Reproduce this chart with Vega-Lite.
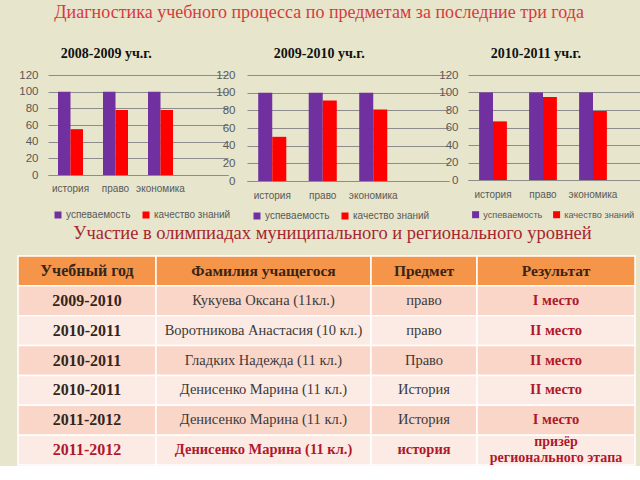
{
  "$schema": "https://vega.github.io/schema/vega-lite/v6.json",
  "background": "#e7e5cb",
  "padding": {"left": 17, "top": 4, "right": 0, "bottom": 0},
  "config": {
    "view": {"stroke": null},
    "font": "Liberation Sans",
    "axis": {"labelFont": "Liberation Sans", "labelColor": "#595959", "domainColor": "#8c8c8c", "gridColor": "#8c8c8c", "gridOpacity": 1, "ticks": false},
    "legend": {"labelFont": "Liberation Sans", "labelColor": "#595959", "labelFontSize": 10, "symbolType": "square", "symbolSize": 49, "symbolStrokeWidth": 0, "columnPadding": 10, "labelOffset": 3, "title": null, "orient": "bottom", "direction": "horizontal"}
  },
  "title": {"text": "Диагностика учебного процесса по предметам  за последние три года", "font": "Liberation Serif", "fontSize": 18, "fontWeight": "normal", "color": "#d63a40", "anchor": "middle", "offset": 25, "dx": -10},
  "datasets": {
    "grades": [
      {"year": "2008-2009", "subject": "история", "metric": "успеваемость", "value": 100},
      {"year": "2008-2009", "subject": "история", "metric": "качество знаний", "value": 55},
      {"year": "2008-2009", "subject": "право", "metric": "успеваемость", "value": 100},
      {"year": "2008-2009", "subject": "право", "metric": "качество знаний", "value": 78},
      {"year": "2008-2009", "subject": "экономика", "metric": "успеваемость", "value": 100},
      {"year": "2008-2009", "subject": "экономика", "metric": "качество знаний", "value": 78},
      {"year": "2009-2010", "subject": "история", "metric": "успеваемость", "value": 100},
      {"year": "2009-2010", "subject": "история", "metric": "качество знаний", "value": 50},
      {"year": "2009-2010", "subject": "право", "metric": "успеваемость", "value": 100},
      {"year": "2009-2010", "subject": "право", "metric": "качество знаний", "value": 91},
      {"year": "2009-2010", "subject": "экономика", "metric": "успеваемость", "value": 100},
      {"year": "2009-2010", "subject": "экономика", "metric": "качество знаний", "value": 81},
      {"year": "2010-2011", "subject": "история", "metric": "успеваемость", "value": 100},
      {"year": "2010-2011", "subject": "история", "metric": "качество знаний", "value": 67},
      {"year": "2010-2011", "subject": "право", "metric": "успеваемость", "value": 100},
      {"year": "2010-2011", "subject": "право", "metric": "качество знаний", "value": 95},
      {"year": "2010-2011", "subject": "экономика", "metric": "успеваемость", "value": 100},
      {"year": "2010-2011", "subject": "экономика", "metric": "качество знаний", "value": 79}
    ],
    "table": [
      {"r": 0, "year": "Учебный год", "name": "Фамилия учащегося", "subject": "Предмет", "result": "Результат"},
      {"r": 1, "year": "2009-2010", "name": "Кукуева Оксана (11кл.)", "subject": "право", "result": "I место"},
      {"r": 2, "year": "2010-2011", "name": "Воротникова Анастасия (10 кл.)", "subject": "право", "result": "II место"},
      {"r": 3, "year": "2010-2011", "name": "Гладких Надежда (11 кл.)", "subject": "Право", "result": "II место"},
      {"r": 4, "year": "2010-2011", "name": "Денисенко Марина (11 кл.)", "subject": "История", "result": "II место"},
      {"r": 5, "year": "2011-2012", "name": "Денисенко Марина (11 кл.)", "subject": "История", "result": "I место"},
      {"r": 6, "year": "2011-2012", "name": "Денисенко Марина (11 кл.)", "subject": "история", "result": "призёр\nрегионального этапа"}
    ]
  },
  "resolve": {"scale": {"color": "independent"}, "legend": {"color": "independent"}},
  "spacing": -3,
  "vconcat": [
    {
      "bounds": "flush",
      "spacing": 19,
      "resolve": {"scale": {"color": "independent", "x": "independent", "y": "independent", "xOffset": "independent"}, "legend": {"color": "independent"}},
      "hconcat": [
        {"width": 11, "height": 100, "data": {"values": []}, "mark": {"type": "rect", "opacity": 0}},
        {
          "width": 180, "height": 100,
          "title": {"text": "2008-2009 уч.г.", "font": "Liberation Serif", "fontSize": 14, "fontWeight": "bold", "color": "#111111", "anchor": "start", "dx": 42, "offset": 8},
          "data": {"name": "grades"},
          "transform": [{"filter": "datum.year == '2008-2009'"}],
          "mark": {"type": "bar"},
          "encoding": {
            "x": {"field": "subject", "type": "nominal", "sort": ["история", "право", "экономика"], "scale": {"paddingInner": 0, "paddingOuter": 0.5, "align": 0}, "axis": {"title": null, "labelAngle": 0, "labelFontSize": 10, "labelPadding": 8}},
            "xOffset": {"field": "metric", "type": "nominal", "sort": ["успеваемость", "качество знаний"], "scale": {"paddingOuter": 0.8, "paddingInner": 0}},
            "y": {"field": "value", "type": "quantitative", "scale": {"domain": [0, 120]}, "axis": {"title": null, "values": [0, 20, 40, 60, 80, 100, 120], "domain": false, "labelFontSize": 11.5, "labelPadding": 10}},
            "color": {"field": "metric", "type": "nominal", "sort": ["успеваемость", "качество знаний"], "scale": {"domain": ["успеваемость", "качество знаний"], "range": ["#7030a0", "#ff0000"]}, "legend": {"offset": 12, "padding": 5}}
          }
        },
        {
          "width": 202, "height": 106,
          "title": {"text": "2009-2010 уч.г.", "font": "Liberation Serif", "fontSize": 14, "fontWeight": "bold", "color": "#111111", "anchor": "start", "dx": 58, "offset": 8},
          "data": {"name": "grades"},
          "transform": [{"filter": "datum.year == '2009-2010'"}],
          "mark": {"type": "bar"},
          "encoding": {
            "x": {"field": "subject", "type": "nominal", "sort": ["история", "право", "экономика"], "scale": {"paddingInner": 0, "paddingOuter": 0.5, "align": 0}, "axis": {"title": null, "labelAngle": 0, "labelFontSize": 10, "labelPadding": 9}},
            "xOffset": {"field": "metric", "type": "nominal", "sort": ["успеваемость", "качество знаний"], "scale": {"paddingOuter": 0.8, "paddingInner": 0}},
            "y": {"field": "value", "type": "quantitative", "scale": {"domain": [0, 120]}, "axis": {"title": null, "values": [0, 20, 40, 60, 80, 100, 120], "domain": false, "labelFontSize": 11.5, "labelPadding": 12}},
            "color": {"field": "metric", "type": "nominal", "sort": ["успеваемость", "качество знаний"], "scale": {"domain": ["успеваемость", "качество знаний"], "range": ["#7030a0", "#ff0000"]}, "legend": {"offset": 6, "padding": 5}}
          }
        },
        {
          "width": 173, "height": 105,
          "title": {"text": "2010-2011 уч.г.", "font": "Liberation Serif", "fontSize": 14, "fontWeight": "bold", "color": "#111111", "anchor": "start", "dx": 52, "offset": 8},
          "data": {"name": "grades"},
          "transform": [{"filter": "datum.year == '2010-2011'"}],
          "mark": {"type": "bar"},
          "encoding": {
            "x": {"field": "subject", "type": "nominal", "sort": ["история", "право", "экономика"], "scale": {"paddingInner": 0, "paddingOuter": 0.23, "align": 0}, "axis": {"title": null, "labelAngle": 0, "labelFontSize": 10, "labelPadding": 9}},
            "xOffset": {"field": "metric", "type": "nominal", "sort": ["успеваемость", "качество знаний"], "scale": {"paddingOuter": 0.8, "paddingInner": 0}},
            "y": {"field": "value", "type": "quantitative", "scale": {"domain": [0, 120]}, "axis": {"title": null, "values": [0, 20, 40, 60, 80, 100, 120], "domain": false, "labelFontSize": 11.5, "labelPadding": 10}},
            "color": {"field": "metric", "type": "nominal", "sort": ["успеваемость", "качество знаний"], "scale": {"domain": ["успеваемость", "качество знаний"], "range": ["#7030a0", "#ff0000"]}, "legend": {"offset": 8, "padding": 3, "labelFontSize": 9.2, "columnPadding": 9}}
          }
        }
      ]
    },
    {
      "title": {"text": "Участие в олимпиадах муниципального и регионального уровней", "font": "Liberation Serif", "fontSize": 18.5, "fontWeight": "normal", "color": "#a8262e", "anchor": "middle", "offset": 13, "dx": 6},
      "bounds": "flush",
      "spacing": 0,
      "hconcat": [
        {
          "width": 138, "height": 209,
          "data": {"name": "table"},
          "encoding": {"y": {"field": "r", "type": "ordinal", "axis": null, "scale": {"paddingInner": 0, "paddingOuter": 0}}},
          "layer": [
            {"mark": {"type": "rect", "stroke": "#ffffff", "strokeWidth": 1.5}, "encoding": {"color": {"field": "r", "type": "ordinal", "legend": null, "scale": {"domain": [0, 1, 2, 3, 4, 5, 6], "range": ["#f5954a", "#fad6c8", "#fcebe4", "#fad6c8", "#fcebe4", "#fad6c8", "#fcebe4"]}}}},
            {"mark": {"type": "text", "font": "Liberation Serif", "fontSize": 16, "fontWeight": "bold"}, "encoding": {"text": {"field": "year"}, "color": {"condition": {"test": "datum.r == 6", "value": "#b0182c"}, "value": "#33261c"}}}
          ]
        },
        {
          "width": 215, "height": 209,
          "data": {"name": "table"},
          "encoding": {"y": {"field": "r", "type": "ordinal", "axis": null, "scale": {"paddingInner": 0, "paddingOuter": 0}}},
          "layer": [
            {"mark": {"type": "rect", "stroke": "#ffffff", "strokeWidth": 1.5}, "encoding": {"color": {"field": "r", "type": "ordinal", "legend": null, "scale": {"domain": [0, 1, 2, 3, 4, 5, 6], "range": ["#f5954a", "#fad6c8", "#fcebe4", "#fad6c8", "#fcebe4", "#fad6c8", "#fcebe4"]}}}},
            {"transform": [{"filter": "datum.r >= 1 && datum.r <= 5"}], "mark": {"type": "text", "font": "Liberation Serif", "fontSize": 14.5, "fontWeight": "normal", "color": "#3a3a3a"}, "encoding": {"text": {"field": "name"}}},
            {"transform": [{"filter": "datum.r == 0 || datum.r == 6"}], "mark": {"type": "text", "font": "Liberation Serif", "fontWeight": "bold"}, "encoding": {"text": {"field": "name"}, "size": {"condition": {"test": "datum.r == 0", "value": 15.5}, "value": 14.5}, "color": {"condition": {"test": "datum.r == 6", "value": "#b0182c"}, "value": "#3c2414"}}}
          ]
        },
        {
          "width": 106, "height": 209,
          "data": {"name": "table"},
          "encoding": {"y": {"field": "r", "type": "ordinal", "axis": null, "scale": {"paddingInner": 0, "paddingOuter": 0}}},
          "layer": [
            {"mark": {"type": "rect", "stroke": "#ffffff", "strokeWidth": 1.5}, "encoding": {"color": {"field": "r", "type": "ordinal", "legend": null, "scale": {"domain": [0, 1, 2, 3, 4, 5, 6], "range": ["#f5954a", "#fad6c8", "#fcebe4", "#fad6c8", "#fcebe4", "#fad6c8", "#fcebe4"]}}}},
            {"transform": [{"filter": "datum.r >= 1 && datum.r <= 5"}], "mark": {"type": "text", "font": "Liberation Serif", "fontSize": 14.5, "fontWeight": "normal", "color": "#3a3a3a"}, "encoding": {"text": {"field": "subject"}}},
            {"transform": [{"filter": "datum.r == 0 || datum.r == 6"}], "mark": {"type": "text", "font": "Liberation Serif", "fontWeight": "bold"}, "encoding": {"text": {"field": "subject"}, "size": {"condition": {"test": "datum.r == 0", "value": 15.5}, "value": 14.5}, "color": {"condition": {"test": "datum.r == 6", "value": "#b0182c"}, "value": "#3c2414"}}}
          ]
        },
        {
          "width": 158, "height": 209,
          "data": {"name": "table"},
          "encoding": {"y": {"field": "r", "type": "ordinal", "axis": null, "scale": {"paddingInner": 0, "paddingOuter": 0}}},
          "layer": [
            {"mark": {"type": "rect", "stroke": "#ffffff", "strokeWidth": 1.5}, "encoding": {"color": {"field": "r", "type": "ordinal", "legend": null, "scale": {"domain": [0, 1, 2, 3, 4, 5, 6], "range": ["#f5954a", "#fad6c8", "#fcebe4", "#fad6c8", "#fcebe4", "#fad6c8", "#fcebe4"]}}}},
            {"transform": [{"filter": "datum.r <= 5"}], "mark": {"type": "text", "font": "Liberation Serif", "fontWeight": "bold"}, "encoding": {"text": {"field": "result"}, "size": {"condition": {"test": "datum.r == 0", "value": 15.5}, "value": 14.5}, "color": {"condition": {"test": "datum.r == 0", "value": "#3c2414"}, "value": "#b0182c"}}},
            {"transform": [{"filter": "datum.r == 6"}], "mark": {"type": "text", "font": "Liberation Serif", "fontWeight": "bold", "fontSize": 14, "lineBreak": "\n", "lineHeight": 16, "dy": -8, "color": "#b0182c"}, "encoding": {"text": {"field": "result"}}}
          ]
        }
      ]
    }
  ]
}
